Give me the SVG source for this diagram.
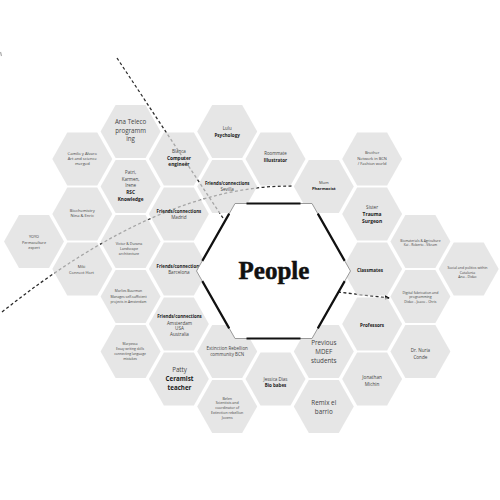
<svg xmlns="http://www.w3.org/2000/svg" xmlns:xlink="http://www.w3.org/1999/xlink" width="500" height="500" viewBox="0 0 500 500">
<defs>
<style>
text{font-family:"Open Sans","DejaVu Sans",sans-serif;text-anchor:middle;fill:#444}
.b{font-weight:bold;fill:#1a1a1a}
.hx{fill:#dcdcdc;fill-opacity:0.7}
.dash{fill:none;stroke:#2a2a2a;stroke-width:1.3;stroke-dasharray:3 2.4}
.edge{stroke:#111;stroke-width:2.2;fill:none}
</style>
<path id="hx" d="M-30,0 L-15,-26.5 L15,-26.5 L30,0 L15,26.5 L-15,26.5 Z"/>
<marker id="ah" viewBox="0 0 6 6" refX="5" refY="3" markerWidth="5" markerHeight="5" orient="auto" markerUnits="userSpaceOnUse"><path d="M0,0 L6,3 L0,6 Z" fill="#111"/></marker>
</defs>
<rect width="500" height="500" fill="#fff"/>
<g id="connectors">
<path class="dash" d="M117,58 L223,218"/>
<path class="dash" d="M2,312 Q161,185 292,186"/>
<path class="dash" d="M338,292 L389,298" marker-end="url(#ah)"/>
<path d="M0.5,52 L1.5,56" stroke="#aaa" stroke-width="1.2" fill="none"/>
</g>
<g id="ana"><use href="#hx" class="hx" x="130.6" y="131.5"/><text x="130.6" y="123.7" font-size="6.2">Ana Teleco</text><text x="130.6" y="132.7" font-size="6.2">programm</text><text x="130.6" y="141.3" font-size="6.2">ing</text></g>
<g id="lulu"><use href="#hx" class="hx" x="227.2" y="131.5"/><text x="227.2" y="129.7" font-size="4.4">Lulu</text><text class="b" x="227.2" y="136.5" font-size="4.6">Psychology</text></g>
<g id="camilo"><use href="#hx" class="hx" x="82.3" y="159"/><text x="82.3" y="154.6" font-size="4.1">Camilo y Alvaro</text><text x="82.3" y="159.6" font-size="4.1">Art and science</text><text x="82.3" y="164.6" font-size="4.1">merged</text></g>
<g id="blanca"><use href="#hx" class="hx" x="178.9" y="159"/><text x="178.9" y="153.1" font-size="4.5">Blanca</text><text class="b" x="178.9" y="159.8" font-size="4.8">Computer</text><text class="b" x="178.9" y="166.2" font-size="4.8">engineer</text></g>
<g id="roommate"><use href="#hx" class="hx" x="275.5" y="159"/><text x="275.5" y="155.4" font-size="4.4">Roommate</text><text class="b" x="275.5" y="162.2" font-size="4.6">Illustrator</text></g>
<g id="brother"><use href="#hx" class="hx" x="372.1" y="159"/><text x="372.1" y="153.6" font-size="4">Brother</text><text x="372.1" y="159.6" font-size="4">Network in BCN</text><text x="372.1" y="165.3" font-size="4">/ Fashion world</text></g>
<g id="patri"><use href="#hx" class="hx" x="130.6" y="186.5"/><text x="130.6" y="174.1" font-size="4.5">Patri,</text><text x="130.6" y="180.7" font-size="4.5">Karmen,</text><text x="130.6" y="187.1" font-size="4.5">Irene</text><text class="b" x="130.6" y="194.2" font-size="4.7">RSC</text><text class="b" x="130.6" y="200.8" font-size="4.7">Knowledge</text></g>
<g id="sevilla"><use href="#hx" class="hx" x="227.2" y="186.5"/><text class="b" x="227.2" y="184.7" font-size="4.4">Friends/connections</text><text x="227.2" y="190.5" font-size="4.6">Sevilla</text></g>
<g id="mum"><use href="#hx" class="hx" x="323.8" y="186.5"/><text x="323.8" y="183.6" font-size="4">Mum</text><text class="b" x="323.8" y="189.8" font-size="4.2">Pharmacist</text></g>
<g id="biochem"><use href="#hx" class="hx" x="82.3" y="214"/><text x="82.3" y="212" font-size="4.1">Biochemistry</text><text x="82.3" y="216.6" font-size="4.1">Nina &amp; Enric</text></g>
<g id="madrid"><use href="#hx" class="hx" x="178.9" y="214"/><text class="b" x="178.9" y="213.4" font-size="4.4">Friends/connections</text><text x="178.9" y="219" font-size="4.6">Madrid</text></g>
<g id="sister"><use href="#hx" class="hx" x="372.1" y="214"/><text x="372.1" y="208.8" font-size="4.6">Sister</text><text class="b" x="372.1" y="215.9" font-size="4.9">Trauma</text><text class="b" x="372.1" y="222.6" font-size="4.9">Surgeon</text></g>
<g id="yoyo"><use href="#hx" class="hx" x="34" y="241.5"/><text x="34" y="237.9" font-size="3.8">YOYO</text><text x="34" y="243.5" font-size="3.8">Permaculture</text><text x="34" y="248.5" font-size="3.8">expert</text></g>
<g id="victor"><use href="#hx" class="hx" x="130.6" y="241.5"/><text x="129" y="244.5" font-size="3.6">Victor &amp; Durana</text><text x="129" y="249.5" font-size="3.6">Landscape</text><text x="129" y="255.2" font-size="3.6">architecture</text></g>
<g id="biomaterials"><use href="#hx" class="hx" x="420.4" y="241.5"/><text x="420.4" y="241.6" font-size="3.3">Biomaterials &amp; Agriculture</text><text x="420.4" y="246.1" font-size="3.3">Kai - Roberto - Vikram</text></g>
<g id="miki"><use href="#hx" class="hx" x="82.3" y="269"/><text x="81.5" y="268" font-size="4">Miki</text><text x="81.5" y="273.6" font-size="4">Connect Hort</text></g>
<g id="barcelona"><use href="#hx" class="hx" x="178.9" y="269"/><text class="b" x="178.9" y="268.1" font-size="4.4">Friends/connections</text><text x="178.9" y="274.2" font-size="4.6">Barcelona</text></g>
<g id="classmates"><use href="#hx" class="hx" x="372.1" y="269"/><text class="b" x="370" y="271.5" font-size="4.6">Classmates</text></g>
<g id="social"><use href="#hx" class="hx" x="468.7" y="269"/><text x="467.5" y="269.4" font-size="3.5">Social and politics within</text><text x="467.5" y="273.8" font-size="3.5">Catalonia</text><text x="467.5" y="277.8" font-size="3.5">Ana - Didac</text></g>
<g id="marlies"><use href="#hx" class="hx" x="130.6" y="296.5"/><text x="128.5" y="292.1" font-size="3.4">Marlies Buurman</text><text x="128.5" y="297.8" font-size="3.4">Manages self-sufficient</text><text x="128.5" y="302.8" font-size="3.4">projects in Amsterdam</text></g>
<g id="digifab"><use href="#hx" class="hx" x="420.4" y="296.5"/><text x="420.4" y="294.4" font-size="3.5">Digital fabrication and</text><text x="420.4" y="298.4" font-size="3.5">programming</text><text x="420.4" y="303.1" font-size="3.5">Didac - Joaco - Chris</text></g>
<g id="amsterdam"><use href="#hx" class="hx" x="178.9" y="324"/><text class="b" x="179.5" y="318.1" font-size="4.4">Friends/connections</text><text x="179.5" y="324.5" font-size="4.6">Amsterdam</text><text x="179.5" y="330.2" font-size="4.6">USA</text><text x="179.5" y="335.9" font-size="4.6">Australia</text></g>
<g id="professors"><use href="#hx" class="hx" x="372.1" y="324"/><text class="b" x="372.1" y="327.2" font-size="4.6">Professors</text></g>
<g id="marpessa"><use href="#hx" class="hx" x="130.6" y="351.5"/><text x="130" y="344.6" font-size="3.3">Marpessa</text><text x="130" y="349.6" font-size="3.3">Essay writing skills</text><text x="130" y="354.6" font-size="3.3">connecting language</text><text x="130" y="359.6" font-size="3.3">mistakes</text></g>
<g id="xr"><use href="#hx" class="hx" x="227.2" y="351.5"/><text x="227.2" y="349.7" font-size="4.5">Extinction Rebellion</text><text x="227.2" y="355.7" font-size="4.5">community BCN</text></g>
<g id="mdef"><use href="#hx" class="hx" x="323.8" y="351.5"/><text x="323.8" y="345.3" font-size="6.3">Previous</text><text x="323.8" y="354" font-size="6.3">MDEF</text><text x="323.8" y="362.5" font-size="6.3">students</text></g>
<g id="nuria"><use href="#hx" class="hx" x="420.4" y="351.5"/><text x="420.4" y="351.5" font-size="4.6">Dr. Nuria</text><text x="420.4" y="358.8" font-size="4.6">Conde</text></g>
<g id="patty"><use href="#hx" class="hx" x="178.9" y="379"/><text x="179.5" y="372" font-size="6.2">Patty</text><text class="b" x="179.5" y="381" font-size="6.2">Ceramist</text><text class="b" x="179.5" y="390.3" font-size="6.2">teacher</text></g>
<g id="jessica"><use href="#hx" class="hx" x="275.5" y="379"/><text x="275.5" y="380.7" font-size="4.5">Jessica Dias</text><text class="b" x="275.5" y="387.4" font-size="4.5">Bio babes</text></g>
<g id="jonathan"><use href="#hx" class="hx" x="372.1" y="379"/><text x="372.1" y="379.2" font-size="4.7">Jonathan</text><text x="372.1" y="385.8" font-size="4.7">Michin</text></g>
<g id="belen"><use href="#hx" class="hx" x="227.2" y="406.5"/><text x="227.2" y="399.5" font-size="3.6">Belen</text><text x="227.2" y="403.9" font-size="3.6">Scientists and</text><text x="227.2" y="408.5" font-size="3.6">coordinator of</text><text x="227.2" y="413.5" font-size="3.6">Extinction rebellion</text><text x="227.2" y="418.5" font-size="3.6">Jovens</text></g>
<g id="remix"><use href="#hx" class="hx" x="323.8" y="406.5"/><text x="323.8" y="404.7" font-size="6.3">Remix el</text><text x="323.8" y="413.7" font-size="6.3">barrio</text></g>
<g id="people">
<path d="M196.5,271 L235,203.5 L312,203.5 L350.5,271 L312,338.5 L235,338.5 Z" fill="#fff" stroke="#999" stroke-width="1"/>
<path class="edge" d="M202.3,260.9 L229.2,213.6 M246.5,203.5 L300.5,203.5 M317.8,213.6 L344.7,260.9 M344.7,281.1 L317.8,328.4 M300.5,338.5 L246.5,338.5 M229.2,328.4 L202.3,281.1"/>
<text x="274" y="279" font-size="25" font-weight="bold" style="fill:#111;stroke:#111;stroke-width:0.5;font-family:'Liberation Serif',serif">People</text>
</g>
</svg>
